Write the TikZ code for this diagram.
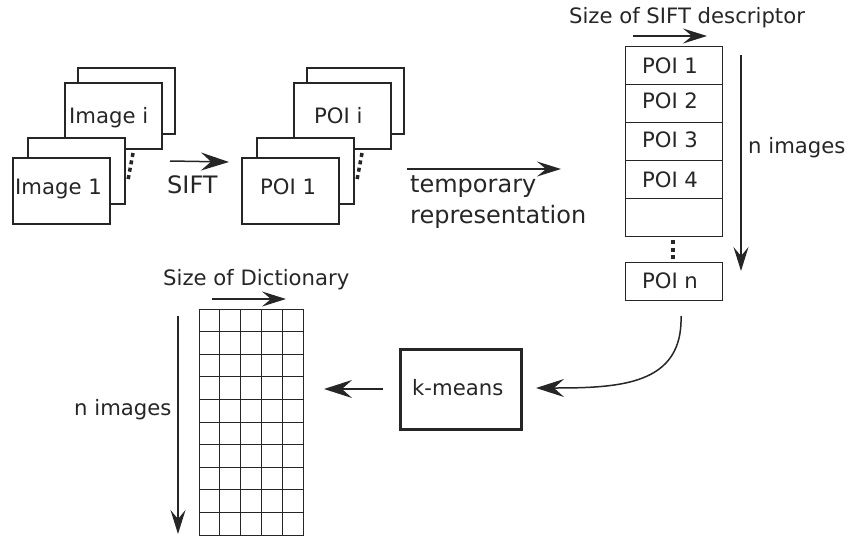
\documentclass[tikz,border=0pt]{standalone}
\usepackage{fontspec}
\setmainfont{DejaVu Sans}
\usetikzlibrary{arrows.meta}
\begin{document}
\begin{tikzpicture}[x=1pt,y=-1pt,
  card/.style={draw=black!85,line width=2pt,fill=white,minimum width=97pt,minimum height=66pt,anchor=north west,inner sep=0pt},
  cell/.style={draw=black!85,line width=1pt,minimum width=97pt,minimum height=38pt,anchor=north west,inner sep=0pt},
  lbl/.style={anchor=base west,inner sep=0pt,font=\fontsize{21.2}{25}\selectfont,text=black!85},
  clbl/.style={anchor=base,inner sep=0pt,font=\fontsize{21.2}{25}\selectfont,text=black!85},
  biglbl/.style={anchor=base west,inner sep=0pt,font=\fontsize{24}{29}\selectfont,text=black!85},
  bigarr/.style={line width=1.5pt,draw=black!85,-{Stealth[length=28pt,width=18pt,inset=10pt]}},
  smallarr/.style={line width=1.3pt,draw=black!85,-{Stealth[length=24pt,width=15pt,inset=9pt]}},
  dots/.style={line width=3.5pt,draw=black!85,dash pattern=on 4pt off 3.5pt}
]
\useasboundingbox (0,0) rectangle (849,536);
% image stack
\node[card] (imgib) at (77,67) {};
\node[card] (imgi) at (64,82) {};
\node[card] (img1b) at (27,137) {};
\node[card] (img1) at (12,157) {};
\node[lbl] (timgi) at (69,123) {Image i};
\node[lbl] (timg1) at (15,194) {Image 1};
\coordinate (d1a) at (133,153);
\coordinate (d1b) at (128,180);
\draw[dots] (d1a) -- (d1b);
% SIFT arrow
\coordinate (s1) at (170,161);
\coordinate (s2) at (229,162);
\draw[bigarr] (s1) -- (s2);
\node[biglbl] (tsift) at (167,193) {SIFT};
% POI stack
\node[card] (poiib) at (306,67) {};
\node[card] (poii) at (293,82) {};
\node[card] (poi1b) at (256,137) {};
\node[card] (poi1) at (241,157) {};
\node[lbl] (tpoii) at (314,123) {POI i};
\node[lbl] (tpoi1) at (260,194) {POI 1};
\coordinate (d2a) at (362,153);
\coordinate (d2b) at (357,180);
\draw[dots] (d2a) -- (d2b);
% temporary representation
\coordinate (t1) at (407,169);
\coordinate (t2) at (561,169);
\draw[smallarr] (t1) -- (t2);
\node[biglbl] (ttemp) at (410,192) {temporary};
\node[biglbl] (trep) at (410,223) {representation};
% column
\node[cell] (c1) at (625,46) {};
\node[cell] (c2) at (625,84) {};
\node[cell] (c3) at (625,122) {};
\node[cell] (c4) at (625,160) {};
\node[cell] (c5) at (625,198) {};
\node[cell] (cn) at (625,262) {};
\node[clbl] at (670,73) {POI 1};
\node[clbl] at (670,108) {POI 2};
\node[clbl] at (670,147) {POI 3};
\node[clbl] at (670,187) {POI 4};
\node[clbl] at (670,288) {POI n};
\coordinate (d3a) at (673,240);
\coordinate (d3b) at (673,260);
\draw[dots] (d3a) -- (d3b);
\node[clbl] (tsize) at (687,23) {Size of SIFT descriptor};
\coordinate (a1) at (633,36);
\coordinate (a2) at (707,36);
\draw[smallarr] (a1) -- (a2);
\coordinate (b1) at (741,55);
\coordinate (b2) at (741,271);
\draw[smallarr] (b1) -- (b2);
\node[lbl] (tn1) at (748,153) {n images};
% k-means
\node[draw=black!85,line width=3.5pt,minimum width=121pt,minimum height=80pt,inner sep=0pt,anchor=north west] (km) at (398.5,347.5) {};
\node[lbl] (tkm) at (412,395) {k-means};
\coordinate (k1) at (383,389);
\coordinate (k2) at (324,389);
\draw[bigarr] (k1) -- (k2);
\coordinate (cs) at (681,316);
\coordinate (ce) at (536,388);
\draw[bigarr] (cs) .. controls (683,385) and (620,388) .. (ce);
% dictionary
\node[draw=black!85,line width=1pt,minimum width=104pt,minimum height=226pt,inner sep=0pt,anchor=north west] (dict) at (199,309) {};
\foreach \i in {1,...,4} {\draw[black!85,line width=1pt] (199+20.8*\i,309) -- (199+20.8*\i,535);}
\foreach \j in {1,...,9} {\draw[black!85,line width=1pt] (199,309+22.6*\j) -- (303,309+22.6*\j);}
\node[lbl] (tdict) at (163,285) {Size of Dictionary};
\coordinate (e1) at (212,299);
\coordinate (e2) at (286,299);
\draw[smallarr] (e1) -- (e2);
\coordinate (f1) at (178,316);
\coordinate (f2) at (178,534);
\draw[smallarr] (f1) -- (f2);
\node[lbl] (tn2) at (74,415) {n images};
\end{tikzpicture}
\end{document}
